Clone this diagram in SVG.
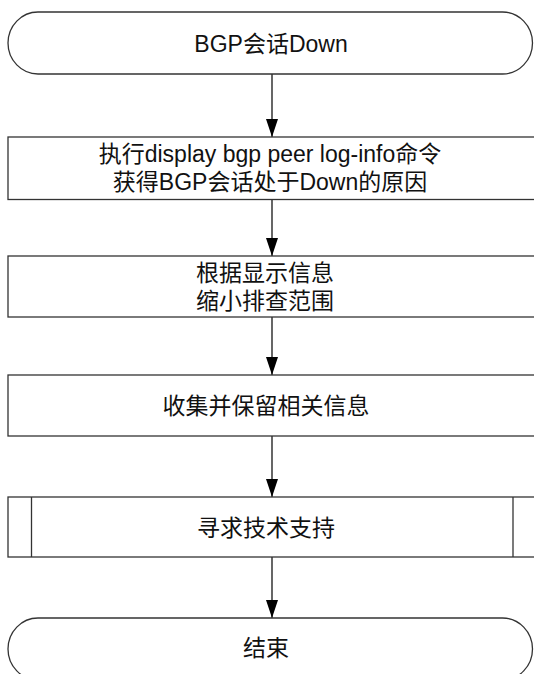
<svg xmlns="http://www.w3.org/2000/svg" width="534" height="674" viewBox="0 0 534 674">
<defs>
<style>
.shape{fill:#fff;stroke:#333;stroke-width:1.3}
.edge{fill:none;stroke:#000;stroke-width:1.2}
.lbl{font-family:"Liberation Sans","Noto Sans CJK SC",sans-serif;font-size:23px;fill:#111;text-anchor:middle}
</style>
<marker id="arr" viewBox="0 0 18 12" refX="18" refY="6" markerWidth="18" markerHeight="12" markerUnits="userSpaceOnUse" orient="auto">
<polygon points="0,0 18,6 0,12" fill="#000"/>
</marker>
</defs>
<rect width="534" height="674" fill="#fff"/>
<g id="connectors">
<line class="edge" x1="272" y1="74" x2="272" y2="137" marker-end="url(#arr)"/>
<line class="edge" x1="272" y1="199.5" x2="272" y2="256" marker-end="url(#arr)"/>
<line class="edge" x1="272" y1="317" x2="272" y2="375" marker-end="url(#arr)"/>
<line class="edge" x1="272" y1="436" x2="272" y2="497" marker-end="url(#arr)"/>
<line class="edge" x1="272" y1="557" x2="272" y2="618" marker-end="url(#arr)"/>
</g>
<g id="start">
<rect class="shape" x="8" y="12" width="524.5" height="62" rx="30" ry="31"/>
<text class="lbl" x="271" y="51.5">BGP会话Down</text>
</g>
<g id="step1">
<rect class="shape" x="8" y="137" width="528" height="62.5"/>
<text class="lbl" x="270" y="162">执行display bgp peer log-info命令</text>
<text class="lbl" x="270" y="190">获得BGP会话处于Down的原因</text>
</g>
<g id="step2">
<rect class="shape" x="8" y="256" width="528" height="61"/>
<text class="lbl" x="265" y="281">根据显示信息</text>
<text class="lbl" x="265" y="309">缩小排查范围</text>
</g>
<g id="step3">
<rect class="shape" x="8" y="375" width="528" height="61"/>
<text class="lbl" x="266" y="414">收集并保留相关信息</text>
</g>
<g id="step4">
<rect class="shape" x="8" y="497" width="528" height="60"/>
<line class="shape" x1="31.5" y1="497" x2="31.5" y2="557"/>
<line class="shape" x1="513" y1="497" x2="513" y2="557"/>
<text class="lbl" x="266" y="536">寻求技术支持</text>
</g>
<g id="end">
<rect class="shape" x="8" y="618" width="524.5" height="62" rx="30" ry="31"/>
<text class="lbl" x="266" y="656">结束</text>
</g>
</svg>
